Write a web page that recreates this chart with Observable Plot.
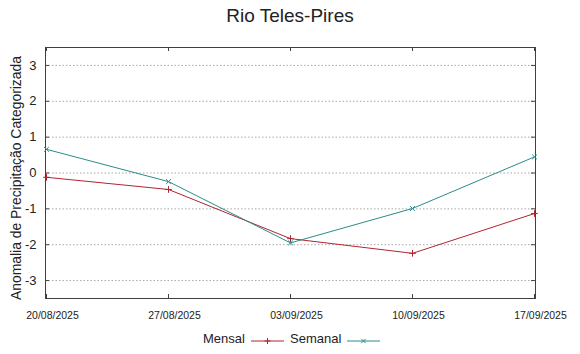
<!DOCTYPE html>
<html>
<head>
<meta charset="utf-8">
<script src="https://cdn.jsdelivr.net/npm/d3@7"></script>
<script src="https://cdn.jsdelivr.net/npm/@observablehq/plot@0.6"></script>
<style>
  html, body { margin: 0; padding: 0; background: white; }
  #wrap { position: relative; width: 580px; height: 354px; font-family: "Liberation Sans", Arial, sans-serif; color: #222; }
  #title { position: absolute; top: 5px; left: 0; width: 580px; text-align: center; font-size: 19px; }
  #ylabel { position: absolute; left: 16px; top: 178px; width: 300px; margin-left: -150px; margin-top: -8px; height: 16px; line-height: 16px;
            text-align: center; font-size: 13.9px; transform: rotate(-90deg); transform-origin: 150px 8px; white-space: nowrap; }
  .leg { position: absolute; top: 331px; font-size: 13px; line-height: 16px; }
  .legsvg { position: absolute; top: 333px; }
</style>
</head>
<body>
<div id="wrap">
  <div id="title"></div>
  <div id="ylabel"></div>
</div>
<script>
const title = "Rio Teles-Pires";
const yLabel = "Anomalia de Precipitação Categorizada";
const dates = ["20/08/2025", "27/08/2025", "03/09/2025", "10/09/2025", "17/09/2025"];
const mensal = [-0.12, -0.46, -1.83, -2.24, -1.13];
const semanal = [0.66, -0.24, -1.95, -0.99, 0.45];
const yTicks = [-3, -2, -1, 0, 1, 2, 3];
const seriesNames = ["Mensal", "Semanal"];
const seriesColors = ["#b3242e", "#2a8c8c"];
const seriesSymbols = ["plus", "times"];

const mRows = dates.map((d, i) => ({date: d, value: mensal[i]}));
const sRows = dates.map((d, i) => ({date: d, value: semanal[i]}));

const W = 580, H = 354, mL = 45, mR = 45, mT = 47, mB = 56;
const fw = W - mL - mR, fh = H - mT - mB;
const frameColor = "#404040";

const chart = Plot.plot({
  width: W, height: H,
  marginLeft: mL, marginRight: mR, marginTop: mT, marginBottom: mB,
  style: {fontFamily: "Liberation Sans, Arial, sans-serif", background: "transparent", color: "#222", overflow: "visible"},
  x: {type: "point", domain: dates, padding: 0},
  y: {domain: [-3.5, 3.5]},
  marks: [
    Plot.ruleY(yTicks, {stroke: "#a8a8a8", strokeDasharray: "1.5,2", strokeWidth: 1}),
    Plot.tickX(dates, {x: d => d, insetTop: fh - 4, stroke: frameColor}),
    Plot.tickX(dates, {x: d => d, insetBottom: fh - 4, stroke: frameColor}),
    Plot.tickY(yTicks, {y: d => d, insetRight: fw - 4, stroke: frameColor}),
    Plot.tickY(yTicks, {y: d => d, insetLeft: fw - 4, stroke: frameColor}),
    Plot.frame({stroke: frameColor, strokeWidth: 1}),
    Plot.axisX({tickSize: 0, tickPadding: 13, fontSize: 10.5, dx: 6, label: null}),
    Plot.axisY({ticks: yTicks, tickSize: 0, tickPadding: 9, fontSize: 13, tickFormat: d => String(d), label: null}),
    Plot.line(mRows, {x: "date", y: "value", stroke: seriesColors[0], strokeWidth: 1}),
    Plot.line(sRows, {x: "date", y: "value", stroke: seriesColors[1], strokeWidth: 1}),
    Plot.dot(mRows, {x: "date", y: "value", symbol: seriesSymbols[0], stroke: seriesColors[0], r: 2.3, strokeWidth: 1}),
    Plot.dot(sRows, {x: "date", y: "value", symbol: seriesSymbols[1], stroke: seriesColors[1], r: 2.3, strokeWidth: 1})
  ]
});

const wrap = document.getElementById("wrap");
chart.style.position = "absolute";
chart.style.left = "0px";
chart.style.top = "0px";
wrap.insertBefore(chart, wrap.firstChild);
document.getElementById("title").textContent = title;
document.getElementById("ylabel").textContent = yLabel;

// Legend
const legendPos = [{text: 203, line: 251}, {text: 290, line: 347}];
seriesNames.forEach((name, i) => {
  const t = document.createElement("div");
  t.className = "leg";
  t.style.left = legendPos[i].text + "px";
  t.textContent = name;
  wrap.appendChild(t);
  const s = d3.create("svg").attr("class", "legsvg").attr("width", 34).attr("height", 16)
    .style("left", legendPos[i].line + "px");
  s.append("line").attr("x1", 0).attr("x2", 33).attr("y1", 8).attr("y2", 8)
    .attr("stroke", seriesColors[i]).attr("stroke-width", 1);
  const sym = i === 0 ? d3.symbolPlus : d3.symbolTimes;
  s.append("path").attr("d", d3.symbol(sym, 14)()).attr("transform", "translate(16.5,8)")
    .attr("fill", "none").attr("stroke", seriesColors[i]).attr("stroke-width", 1);
  wrap.appendChild(s.node());
});
</script>
</body>
</html>
